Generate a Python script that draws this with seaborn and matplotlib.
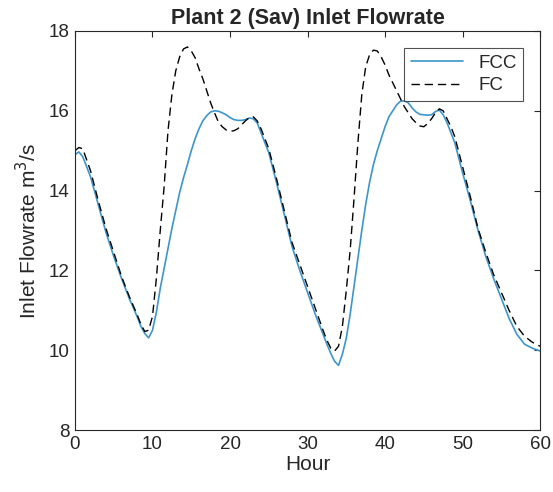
import numpy as np
import pandas as pd
import matplotlib
matplotlib.use("Agg")
import matplotlib.pyplot as plt
import seaborn as sns

# readings (finer steps around the swings)
hours = [0, 0.5, 1, 2, 3, 4, 5, 6, 7, 8,
         8.5, 9, 9.5, 10, 10.5, 11, 11.5, 12, 12.5, 13, 13.5, 14, 14.5, 15, 15.5, 16, 16.5,
         17, 17.5, 18, 18.5, 19, 19.5, 20, 20.5, 21, 21.5, 22, 22.5, 23, 23.5, 24, 24.5, 25,
         26, 27, 28, 29, 30, 31, 32,
         32.5, 33, 33.5, 34, 34.5, 35, 35.5, 36, 36.5, 37, 37.5, 38, 38.5, 39, 39.5, 40, 40.5,
         41, 41.5, 42, 42.5, 43, 43.5, 44, 44.5, 45, 45.5, 46, 46.5, 47, 47.5, 48, 48.5, 49,
         50, 51, 52, 53, 54, 55, 56, 57, 58, 59, 60]

fcc = [14.9, 14.97, 14.85, 14.35, 13.65, 12.95, 12.35, 11.8, 11.3, 10.85,
       10.6, 10.42, 10.31, 10.5, 10.95, 11.55, 12.05, 12.55, 13.05, 13.5, 13.95, 14.32, 14.65,
       15.0, 15.3, 15.55, 15.75, 15.88, 15.97, 16.0, 15.99, 15.95, 15.9, 15.83, 15.78, 15.76,
       15.76, 15.78, 15.82, 15.8, 15.7, 15.45, 15.2, 14.95,
       14.2, 13.4, 12.6, 12.0, 11.45, 10.9, 10.4,
       10.15, 9.92, 9.72, 9.62, 9.9, 10.3, 10.9, 11.6, 12.3, 13.0, 13.65, 14.2, 14.65, 15.0,
       15.3, 15.6, 15.85, 16.0, 16.15, 16.24, 16.25, 16.2, 16.07, 15.97, 15.91, 15.9, 15.89,
       15.9, 15.98, 16.02, 15.9, 15.7, 15.45, 15.2,
       14.45, 13.75, 13.0, 12.35, 11.8, 11.3, 10.8, 10.4, 10.15, 10.05, 9.98]

fc = [15.0, 15.08, 15.05, 14.5, 13.75, 13.05, 12.45, 11.85, 11.35, 10.9,
      10.65, 10.47, 10.5, 10.85, 11.8, 13.0, 14.1, 15.5, 16.4, 17.0, 17.35, 17.55, 17.6,
      17.5, 17.33, 17.05, 16.8, 16.5, 16.2, 15.95, 15.72, 15.6, 15.52, 15.49, 15.5, 15.55,
      15.65, 15.75, 15.83, 15.85, 15.75, 15.55, 15.3, 15.05,
      14.3, 13.5, 12.7, 12.15, 11.6, 11.05, 10.5,
      10.25, 10.05, 9.98, 10.1, 10.6, 11.5, 12.5, 13.8, 15.2, 16.4, 17.1, 17.4, 17.52, 17.5,
      17.35, 17.15, 16.9, 16.7, 16.5, 16.3, 16.1, 15.95, 15.8, 15.7, 15.62, 15.6, 15.68,
      15.8, 15.95, 16.05, 16.0, 15.8, 15.6, 15.35,
      14.6, 13.85, 13.05, 12.45, 11.9, 11.45, 11.0, 10.6, 10.35, 10.2, 10.1]

df = pd.DataFrame({"Hour": hours, "FCC": fcc, "FC": fc})

sns.set_style("white")
plt.rcParams['font.family'] = ['Liberation Sans', 'DejaVu Sans']

fig = plt.figure(figsize=(5.53, 4.92), dpi=100)
ax = fig.add_axes([0.1356, 0.126, 0.8410, 0.811])

sns.lineplot(data=df, x="Hour", y="FCC", color='#3b96cc', linewidth=1.2, label="FCC", ax=ax)
sns.lineplot(data=df, x="Hour", y="FC", color='black', linewidth=1.0, linestyle=(0, (6, 3.5)), label="FC", ax=ax)

ax.set_xlim(0, 60)
ax.set_ylim(8, 18)
ax.set_xticks(range(0, 61, 10))
ax.set_yticks(range(8, 19, 2))
ax.tick_params(direction='in', length=4, width=0.8, top=True, right=True,
               labelsize=13.5, colors='#262626', pad=4)
for s in ax.spines.values():
    s.set_color('#262626')
    s.set_linewidth(0.8)

ax.set_title("Plant 2 (Sav) Inlet Flowrate", fontsize=15.5, fontweight='bold', pad=5)
ax.set_xlabel("Hour", fontsize=15, color='#262626', labelpad=2)
ax.set_ylabel("Inlet Flowrate m$^3$/s", fontsize=15, color='#262626', labelpad=6)

leg = ax.legend(loc='upper right', fontsize=13.5, frameon=True, fancybox=False,
                handlelength=2.8, borderaxespad=0.9, borderpad=0.35, labelspacing=0.3)
leg.get_frame().set_edgecolor('#262626')
leg.get_frame().set_linewidth(0.8)

plt.savefig("out.png", dpi=100)
